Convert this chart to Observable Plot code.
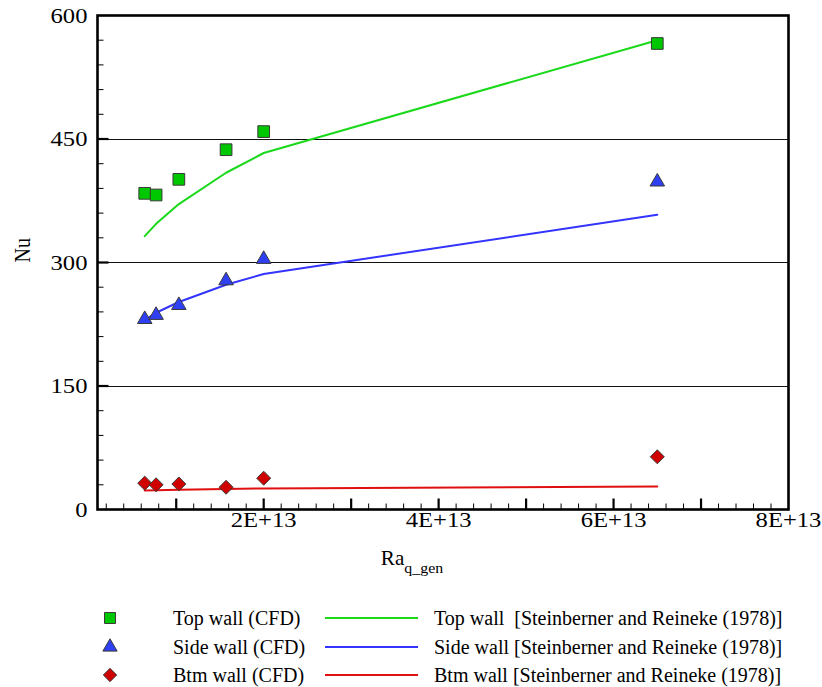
<!DOCTYPE html>
<html><head><meta charset="utf-8">
<script src="https://cdn.jsdelivr.net/npm/d3@7"></script>
<script src="https://cdn.jsdelivr.net/npm/@observablehq/plot@0.6"></script>
<style>
body{margin:0;background:#fff;font-family:"Liberation Serif","Times New Roman",serif;}
#wrap{position:relative;width:822px;height:687px;overflow:hidden;}
.lg{position:absolute;font-size:20px;white-space:pre;line-height:22px;height:22px;color:#000;}
.ln{position:absolute;height:2px;width:93px;}
.mk{position:absolute;}
</style></head><body><div id="wrap"></div>
<script>
// ---- data ----
const raValues = [0.64e13, 0.77e13, 1.03e13, 1.57e13, 2.0e13, 6.5e13];
const topCFD   = [384, 382, 401, 437, 459, 566];
const sideCFD  = [231, 236, 248, 278, 304, 398];
const btmCFD   = [32, 30, 31, 27, 38, 64];
const topCorr  = [332, 347, 371, 409, 433, 570];
const sideCorr = [230, 239, 252, 273, 286, 358];
const btmCorr  = [23, 23.5, 24, 25, 25.5, 28];
const yTickLabels = [0, 150, 300, 450, 600];
const xTickLabels = [2e13, 4e13, 6e13, 8e13];
const cfdNames  = ["Top wall (CFD)", "Side wall (CFD)", "Btm wall (CFD)"];
const corrNames = ["Top wall  [Steinberner and Reineke (1978)]", "Side wall [Steinberner and Reineke (1978)]", "Btm wall [Steinberner and Reineke (1978)]"];

const C = {
  topFill: "#00c800", topLine: "#1ad81a",
  sideFill: "#2f3ff2", sideLine: "#3434ff",
  btmFill: "#d00000", btmLine: "#e01010",
  mkStroke: "#3a3a3a"
};

const rows = (ys) => raValues.map((x, i) => ({ra: x, nu: ys[i]}));

const majorY = [150, 300, 450];
const minorY = d3.range(30, 600, 30).filter(v => v % 150 !== 0);
const majorX = d3.range(1, 8).map(i => i * 1e13);
const minorX = d3.range(1, 40).filter(i => i % 5 !== 0).map(i => i * 2e12);
const tickShape = {draw(ctx, l) { ctx.moveTo(0, 0); ctx.lineTo(0, -l); }};

const tickCommon = {anchor: "start", shape: tickShape, stroke: "black", strokeLinecap: "butt"};

const svg = Plot.plot({
  width: 822, height: 600,
  marginLeft: 97, marginRight: 34, marginTop: 15, marginBottom: 91,
  style: {fontFamily: "'Liberation Serif','Times New Roman',serif", fontSize: "21px", background: "white", color: "black"},
  x: {domain: [1e12, 8e13], axis: null},
  y: {domain: [0, 600], axis: null},
  marks: [
    Plot.ruleY(majorY, {stroke: "#111", strokeWidth: 1, shapeRendering: "crispEdges"}),
    Plot.vector(minorY, {y: d => d, frameAnchor: "left", length: 6, rotate: 90, strokeWidth: 1, ...tickCommon}),
    Plot.vector(majorY, {y: d => d, frameAnchor: "left", length: 11, rotate: 90, strokeWidth: 2.2, ...tickCommon}),
    Plot.vector(minorX, {x: d => d, frameAnchor: "bottom", length: 6, rotate: 0, strokeWidth: 1, ...tickCommon}),
    Plot.vector(majorX, {x: d => d, frameAnchor: "bottom", length: 11, rotate: 0, strokeWidth: 2.2, ...tickCommon}),
    Plot.line(rows(topCorr),  {x: "ra", y: "nu", stroke: C.topLine,  strokeWidth: 2}),
    Plot.line(rows(sideCorr), {x: "ra", y: "nu", stroke: C.sideLine, strokeWidth: 2}),
    Plot.line(rows(btmCorr),  {x: "ra", y: "nu", stroke: C.btmLine,  strokeWidth: 2}),
    Plot.dot(rows(topCFD),  {x: "ra", y: "nu", symbol: "square",   r: 6.6, fill: C.topFill,  stroke: C.mkStroke, strokeWidth: 1}),
    Plot.dot(rows(sideCFD), {x: "ra", y: "nu", symbol: "triangle", r: 5.4, fill: C.sideFill, stroke: C.mkStroke, strokeWidth: 1}),
    Plot.dot(rows(btmCFD),  {x: "ra", y: "nu", symbol: "diamond2", r: 6.3, fill: C.btmFill,  stroke: C.mkStroke, strokeWidth: 1}),
    Plot.frame({stroke: "black", strokeWidth: 2.6}),
    Plot.text(yTickLabels, {y: d => d, text: d => String(d), frameAnchor: "left", dx: -10, textAnchor: "end", fontSize: 22, fill: "black", ariaDescription: "ytick"}),
    Plot.text(xTickLabels, {x: d => d, text: d => `${d / 1e13}E+13`, frameAnchor: "bottom", dy: 17, fontSize: 22, fill: "black", ariaDescription: "xtick"}),
    Plot.text(["Nu"], {text: d => d, frameAnchor: "left", dx: -75, rotate: -90, fontSize: 20, fill: "black", ariaDescription: "ytitle"})
  ]
});

// horizontal stretch of the serif text, as in the reference
d3.select(svg).selectAll("g[aria-description='ytick'] text, g[aria-description='xtick'] text").each(function() {
  const t = this.getAttribute("transform") || "";
  this.setAttribute("transform", t + " scale(1.12,1)");
});
d3.select(svg).selectAll("g[aria-description='ytitle'] text").each(function() {
  const t = this.getAttribute("transform") || "";
  this.setAttribute("transform", t + " scale(1,1.12)");
});

// x-axis title with subscript
const xt = d3.select(svg).append("text")
  .attr("transform", "translate(412,565) scale(1.06,1)")
  .attr("fill", "black").attr("font-size", 20);
xt.append("tspan").text("Ra");
xt.append("tspan").attr("font-size", 15).attr("dy", 8).text("q_gen");

const wrap = document.getElementById("wrap");
wrap.appendChild(svg);

// ---- legend (below the svg) ----
const rowY = [618, 647, 675];
const fills = [C.topFill, C.sideFill, C.btmFill];
const lines = [C.topLine, C.sideLine, C.btmLine];
const symbols = [d3.symbolSquare, d3.symbolTriangle, d3.symbolDiamond2];
const sizes = [6.2, 5.3, 6.0];
rowY.forEach((cy, i) => {
  const m = d3.create("svg").attr("class", "mk").attr("width", 20).attr("height", 20)
    .style("left", (110 - 10) + "px").style("top", (cy - 10) + "px");
  m.append("path")
    .attr("d", d3.symbol(symbols[i], sizes[i] * sizes[i] * Math.PI)())
    .attr("transform", "translate(10,10)")
    .attr("fill", fills[i]).attr("stroke", C.mkStroke).attr("stroke-width", 1);
  wrap.appendChild(m.node());

  const t1 = document.createElement("div");
  t1.className = "lg"; t1.textContent = cfdNames[i];
  t1.style.left = "173px"; t1.style.top = (cy - 11) + "px";
  wrap.appendChild(t1);

  const ln = document.createElement("div");
  ln.className = "ln"; ln.style.background = lines[i];
  ln.style.left = "325px"; ln.style.top = (cy - 1) + "px";
  wrap.appendChild(ln);

  const t2 = document.createElement("div");
  t2.className = "lg"; t2.textContent = corrNames[i];
  t2.style.left = "434px"; t2.style.top = (cy - 11) + "px";
  wrap.appendChild(t2);
});
</script>
</body></html>
